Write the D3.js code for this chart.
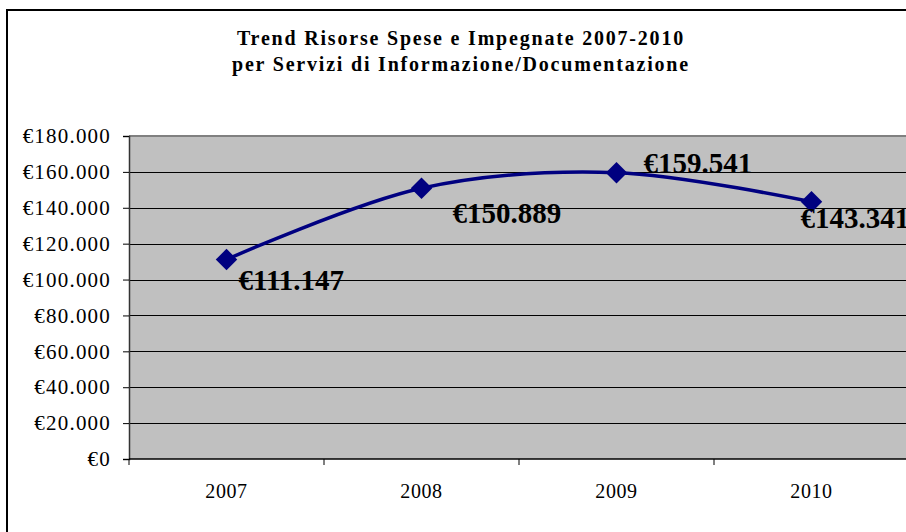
<!DOCTYPE html>
<html>
<head>
<meta charset="utf-8">
<script src="https://cdn.jsdelivr.net/npm/d3@7"></script>
<style>
  body { margin: 0; background: #fff; }
  svg { display: block; }
  text { font-family: "Liberation Serif", "Times New Roman", serif; }
</style>
</head>
<body>
<div id="wrapper"></div>
<script>
// Chart data
const years = ["2007", "2008", "2009", "2010"];
const amounts = [111147, 150889, 159541, 143341];
const yTicks = [0, 20000, 40000, 60000, 80000, 100000, 120000, 140000, 160000, 180000];
const titleLines = ["Trend Risorse Spese e Impegnate 2007-2010", "per Servizi di Informazione/Documentazione"];
// where each data label sits relative to its point (dx, dy to baseline)
const labelOffsets = [[12, 30], [31, 35], [27, 0], [-11, 26]];

function buildChart() {
    const width = 906, height = 532;
    const margin = { top: 136, left: 129 };
    const boundedWidth = 780;   // runs past the right edge, like the picture
    const boundedHeight = 323;

    const svg = d3.select("#wrapper").append("svg")
        .attr("width", width)
        .attr("height", height);

    // outer chart frame (cut off on right and bottom)
    svg.append("rect")
        .attr("x", 7).attr("y", 10)
        .attr("width", 1000).attr("height", 600)
        .attr("fill", "#fff")
        .attr("stroke", "#000")
        .attr("stroke-width", 2);

    // title
    svg.append("g").selectAll("text")
        .data(titleLines)
        .join("text")
        .attr("x", 461)
        .attr("y", (d, i) => 45 + i * 26)
        .attr("text-anchor", "middle")
        .style("font-weight", "bold")
        .style("font-size", "20px")
        .style("letter-spacing", "1.8px")
        .text(d => d);

    const bounds = svg.append("g")
        .attr("transform", `translate(${margin.left},${margin.top})`);

    const x = d3.scaleBand().domain(years).range([0, boundedWidth]);
    const y = d3.scaleLinear().domain([0, 180000]).range([boundedHeight, 0]);

    // plot background
    bounds.append("rect")
        .attr("width", boundedWidth).attr("height", boundedHeight)
        .attr("fill", "#c0c0c0");
    bounds.append("line")
        .attr("x1", 0).attr("x2", boundedWidth)
        .attr("y1", 0).attr("y2", 0)
        .attr("stroke", "#808080").attr("stroke-width", 2);

    // gridlines
    bounds.append("g").selectAll("line")
        .data(yTicks.filter(v => v > 0 && v < 180000))
        .join("line")
        .attr("x1", 0).attr("x2", boundedWidth)
        .attr("y1", d => Math.round(y(d)) + 0.5).attr("y2", d => Math.round(y(d)) + 0.5)
        .attr("stroke", "#000").attr("stroke-width", 1);

    // y axis
    const fmt = v => "€" + (v === 0 ? "0" : d3.format(",")(v).replace(/,/g, "."));
    const yAxis = bounds.append("g")
        .call(d3.axisLeft(y).tickValues(yTicks).tickSize(6).tickPadding(12).tickFormat(fmt));
    yAxis.select(".domain").attr("stroke", "#333").attr("stroke-width", 1.5);
    yAxis.selectAll(".tick line").attr("stroke", "#000");
    yAxis.selectAll("text")
        .attr("fill", "#000")
        .style("font-family", null)
        .style("font-size", "21px")
        .style("letter-spacing", "1.2px");

    // x axis with ticks at band boundaries
    const xAxisG = bounds.append("g").attr("transform", `translate(0,${boundedHeight})`);
    xAxisG.append("line")
        .attr("x1", 0).attr("x2", boundedWidth)
        .attr("stroke", "#000").attr("stroke-width", 1.5);
    xAxisG.selectAll(".xtick")
        .data(years.concat(["end"]))
        .join("line")
        .attr("class", "xtick")
        .attr("x1", (d, i) => i * x.step()).attr("x2", (d, i) => i * x.step())
        .attr("y1", 0).attr("y2", 6)
        .attr("stroke", "#000");
    xAxisG.selectAll("text")
        .data(years)
        .join("text")
        .attr("x", d => x(d) + x.bandwidth() / 2)
        .attr("y", 39)
        .attr("text-anchor", "middle")
        .style("font-size", "20px")
        .style("letter-spacing", "0.6px")
        .text(d => d);

    const px = d => x(d) + x.bandwidth() / 2;

    // smoothed line
    const line = d3.line()
        .x((d, i) => px(years[i]))
        .y(d => y(d))
        .curve(d3.curveCatmullRom.alpha(0.5));
    bounds.append("path")
        .attr("d", line(amounts))
        .attr("fill", "none")
        .attr("stroke", "#000080")
        .attr("stroke-width", 3.5);

    // diamond markers
    bounds.append("g").selectAll("path")
        .data(amounts)
        .join("path")
        .attr("d", d3.symbol(d3.symbolSquare, 230))
        .attr("transform", (d, i) => `translate(${px(years[i])},${y(d)}) rotate(45)`)
        .attr("fill", "#000080");

    // data labels
    bounds.append("g").selectAll("text")
        .data(amounts)
        .join("text")
        .attr("x", (d, i) => px(years[i]) + labelOffsets[i][0])
        .attr("y", (d, i) => y(d) + labelOffsets[i][1])
        .style("font-weight", "bold")
        .style("font-size", "29px")
        .text(d => fmt(d));
}

buildChart();
</script>
</body>
</html>
